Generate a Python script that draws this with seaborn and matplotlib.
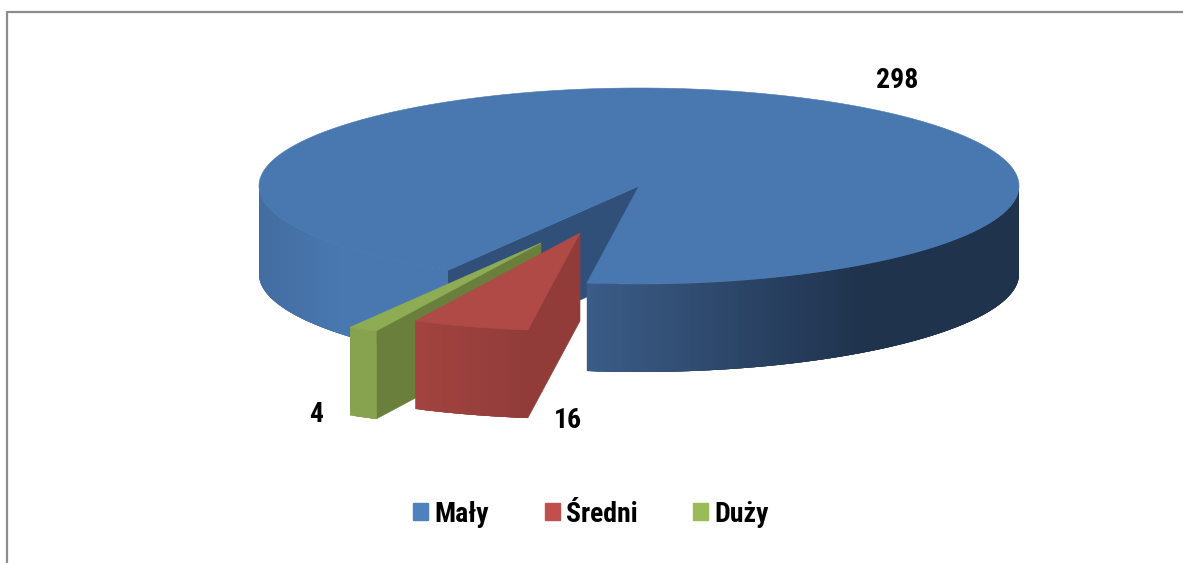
# 3D pie chart: exploded slices drawn on a pixel sized axes
import numpy as np
import seaborn as sns
import matplotlib.pyplot as plt
from matplotlib.patches import Patch

labels = ["Mały", "Średni", "Duży"]
values = [298, 16, 4]
value_labels = ["298", "16", "4"]

sns.set_theme(style="white")
plt.rcParams["font.family"] = ["Roboto Condensed", "Barlow Semi Condensed", "Liberation Sans"]

legend_colors = ["#4f81bd", "#c0504d", "#9bbb59"]
top_colors = ["#4978b1", "#b04a46", "#8eac53"]
wall_colors = ["#30507a", "#923c3a", "#6a7f3c"]
# side colours: gradient palettes, used over an x range further down
side_left = sns.blend_palette(["#436da0", "#4978b1"], 200)
side_right = sns.blend_palette(["#3b5c88", "#1f334d"], 200)
side_red = sns.blend_palette(["#a2433f", "#913c39"], 200)
side_green = sns.blend_palette(["#88a34f", "#88a34f"], 2)

cx, cy = 639, 186
rx, ry = 380, 98
depth = 88
first_angle = 30.7
# offset of every slice from the pie centre
shift_x = [0, -59, -98]
shift_y = [0, 47, 57]
label_x = [897, 568, 316]
label_y = [81, 420, 414]


def rim(a, dx, dy):
    # a in degrees, clockwise, 0 = front of the pie
    r = np.radians(a)
    width = rx - 8 * np.cos(r) ** 2
    return cx + dx - width * np.sin(r), cy + dy + ry * np.cos(r)


def side_color(x, pal, x0, x1):
    t = np.clip((x - x0) / (x1 - x0), 0, 1)
    return pal[int(t * (len(pal) - 1))]


def draw_side(ax, a0, a1, dx, dy, pal, x0, x1):
    # walk from the high angle to the low one, left to right on screen for the
    # front half; each strip runs a bit under the next one so no seams show
    angles = np.arange(a0, a1, 0.5).tolist() + [a1]
    for k in range(len(angles) - 1, 0, -1):
        arc = np.linspace(angles[k], max(angles[k] - 2, a0), 6)
        xa, ya = rim(arc, dx, dy)
        c = side_color(xa[0], pal, x0, x1)
        ax.fill(np.r_[xa, xa[::-1]], np.r_[ya, ya[::-1] + depth],
                color=c, lw=0, zorder=2)


fig = plt.figure(figsize=(11.83, 5.63), dpi=100)
ax = fig.add_axes([0, 0, 1, 1])
ax.set_xlim(0, 1183)
ax.set_ylim(563, 0)
ax.axis("off")

# Rahmen oben und links
ax.plot([7, 7, 1183], [563, 11.5, 11.5], color="#8c8c8c", lw=1.6, zorder=1)

sweeps = np.array(values) / sum(values) * 360
starts = first_angle + np.concatenate([[0], np.cumsum(sweeps)[:-1]])
ends = starts + sweeps

# blue slice first, then green, then red on top
for i in [0, 2, 1]:
    a0, a1 = starts[i], ends[i]
    dx, dy = shift_x[i], shift_y[i]
    apex = (cx + dx, cy + dy)

    # cut face that looks at the viewer
    ex, ey = rim(a0, dx, dy)
    ax.fill([apex[0], ex, ex, apex[0]],
            [apex[1], ey, ey + depth, apex[1] + depth],
            color=wall_colors[i], lw=0.4, zorder=2)

    # outer side
    if i == 0:
        draw_side(ax, a0, 90, dx, dy, side_left, 259, 345)
        draw_side(ax, 270, a1, dx, dy, side_right, 585, 860)
    elif i == 1:
        draw_side(ax, a0, a1, dx, dy, side_red, 417, 527)
    else:
        draw_side(ax, a0, a1, dx, dy, side_green, 350, 377)

    # top face
    arc = np.linspace(a0, a1, 400)
    xs, ys = rim(arc, dx, dy)
    ax.fill(np.r_[apex[0], xs], np.r_[apex[1], ys],
            color=top_colors[i], lw=0.4, zorder=2)

for txt, x, y in zip(value_labels, label_x, label_y):
    ax.text(x, y, txt, ha="center", va="center", fontsize=20,
            fontweight="bold", color="black", zorder=5)

handles = [Patch(color=c, label=l) for c, l in zip(legend_colors, labels)]
ax.legend(handles=handles, ncol=3, loc="center", frameon=False,
          bbox_to_anchor=(591, 514), bbox_transform=ax.transData,
          prop={"weight": "bold", "size": 20},
          handlelength=0.54, handleheight=0.54, handletextpad=0.22,
          columnspacing=2.0, labelcolor="black")

fig.savefig("out.png", dpi=100)
